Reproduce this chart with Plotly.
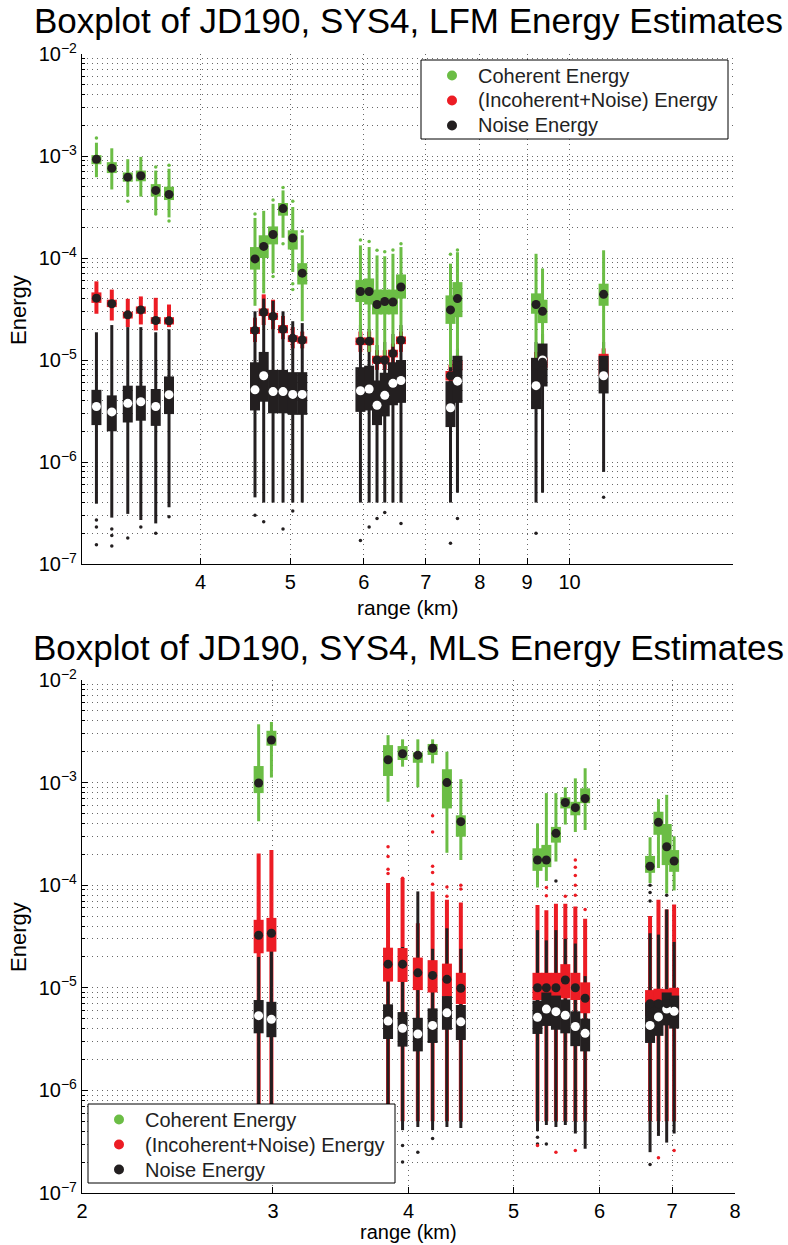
import plotly.graph_objects as go

# ---------------- LFM panel (top) ----------------
LFM_RANGE_KM = [3.09, 3.21, 3.34, 3.45, 3.58, 3.70,
                4.58, 4.68, 4.79, 4.91, 5.03, 5.15,
                5.95, 6.08, 6.20, 6.32, 6.45, 6.58,
                7.44, 7.57,
                9.20, 9.35,
                10.88]

LFM_COH_LO = [6.2e-4, 4.7e-4, 4.0e-4, 4.0e-4, 2.76e-4, 2.5e-4,
              3.4e-5, 4.5e-5, 7.1e-5, 1.58e-4, 7.3e-5, 2.4e-5,
              1.67e-5, 1.2e-5, 1.05e-5, 1.05e-5, 1.35e-5, 1.56e-5,
              8.5e-6, 1.05e-5, 1.0e-5, 1.0e-5, 1.0e-5]
LFM_COH_Q1 = [8.3e-4, 6.8e-4, 5.6e-4, 5.65e-4, 4.0e-4, 3.7e-4,
              7.7e-5, 1.0e-4, 1.36e-4, 2.6e-4, 1.21e-4, 5.5e-5,
              3.7e-5, 3.5e-5, 2.8e-5, 2.8e-5, 2.8e-5, 4.0e-5,
              2.26e-5, 2.63e-5, 2.84e-5, 2.3e-5, 3.4e-5]
LFM_COH_MED = [9.3e-4, 7.6e-4, 6.2e-4, 6.4e-4, 4.6e-4, 4.2e-4,
               9.8e-5, 1.3e-4, 1.7e-4, 3.05e-4, 1.57e-4, 7.1e-5,
               4.7e-5, 4.7e-5, 3.5e-5, 3.75e-5, 3.7e-5, 5.2e-5,
               3.1e-5, 4.0e-5, 3.5e-5, 3.0e-5, 4.4e-5]
LFM_COH_Q3 = [1.02e-3, 8.7e-4, 6.9e-4, 7.2e-4, 5.3e-4, 5.0e-4,
              1.28e-4, 1.67e-4, 2.04e-4, 3.46e-4, 1.87e-4, 8.9e-5,
              6.1e-5, 6.3e-5, 4.9e-5, 4.9e-5, 4.9e-5, 6.9e-5,
              4.3e-5, 5.8e-5, 4.5e-5, 3.9e-5, 5.6e-5]
LFM_COH_HI = [1.35e-3, 1.19e-3, 9.3e-4, 9.8e-4, 7.2e-4, 7.5e-4,
              2.47e-4, 2.9e-4, 3.4e-4, 4.6e-4, 3.16e-4, 1.67e-4,
              1.33e-4, 1.28e-4, 1.06e-4, 1.04e-4, 1.1e-4, 1.28e-4,
              8.8e-5, 1.14e-4, 1.1e-4, 7.9e-5, 1.19e-4]
LFM_COH_OUT = [(0, 1.5e-3), (2, 3.6e-4), (4, 7.8e-4), (4, 2.7e-4), (5, 8.1e-4),
               (5, 2.3e-4), (6, 2.7e-4), (8, 3.7e-4), (8, 6.6e-5), (9, 4.9e-4),
               (9, 1.38e-4), (10, 3.6e-4), (10, 5.6e-5), (10, 4.9e-5), (11, 1.83e-4),
               (12, 1.5e-4), (13, 1.45e-4), (14, 1.19e-4), (15, 1.15e-4), (16, 1.2e-4),
               (17, 1.38e-4), (18, 1.09e-4), (19, 1.2e-4)]

LFM_INC_LO = [2.84e-5, 2.44e-5, 2.1e-5, 2.23e-5, 1.95e-5, 2.1e-5,
              1.5e-5, 2.2e-5, 2.0e-5, 1.6e-5, 1.3e-5, 1.3e-5,
              1.2e-5, 1.2e-5, 8.0e-6, 8.0e-6, 9.0e-6, 1.2e-5,
              5.5e-6, 7.0e-6, 6.5e-6, 7.0e-6, 5.5e-6]
LFM_INC_Q1 = [3.63e-5, 3.3e-5, 2.55e-5, 2.84e-5, 2.26e-5, 2.23e-5,
              1.8e-5, 2.7e-5, 2.47e-5, 1.83e-5, 1.5e-5, 1.45e-5,
              1.4e-5, 1.4e-5, 9.2e-6, 9.2e-6, 1.06e-5, 1.43e-5,
              6.3e-6, 7.9e-6, 7.9e-6, 8.4e-6, 7.0e-6]
LFM_INC_MED = [4.04e-5, 3.56e-5, 2.77e-5, 3.1e-5, 2.44e-5, 2.42e-5,
               1.95e-5, 2.94e-5, 2.68e-5, 2.0e-5, 1.63e-5, 1.57e-5,
               1.53e-5, 1.53e-5, 1.0e-5, 1.0e-5, 1.16e-5, 1.56e-5,
               7.0e-6, 8.8e-6, 9.0e-6, 9.5e-6, 9.0e-6]
LFM_INC_Q3 = [4.6e-5, 3.9e-5, 2.97e-5, 3.35e-5, 2.63e-5, 2.63e-5,
              2.1e-5, 3.2e-5, 2.9e-5, 2.2e-5, 1.75e-5, 1.7e-5,
              1.66e-5, 1.66e-5, 1.1e-5, 1.1e-5, 1.26e-5, 1.7e-5,
              7.8e-6, 9.8e-6, 1.02e-5, 1.06e-5, 1.15e-5]
LFM_INC_HI = [5.9e-5, 4.9e-5, 3.98e-5, 4.2e-5, 4.07e-5, 3.5e-5,
              2.6e-5, 4.4e-5, 3.9e-5, 2.7e-5, 2.1e-5, 1.9e-5,
              1.9e-5, 1.9e-5, 1.25e-5, 1.25e-5, 1.45e-5, 1.9e-5,
              9.0e-6, 1.1e-5, 1.2e-5, 1.2e-5, 1.3e-5]
LFM_INC_OUT = []

LFM_NOI_LO = [3.9e-7, 2.85e-7, 3.1e-7, 2.7e-7, 2.5e-7, 3.6e-7,
              4.5e-7, 4.0e-7, 4.0e-7, 4.0e-7, 4.0e-7, 4.0e-7,
              4.0e-7, 4.0e-7, 4.0e-7, 4.0e-7, 4.0e-7, 4.0e-7,
              4.0e-7, 5.0e-7, 4.0e-7, 5.0e-7, 8.0e-7]
LFM_NOI_Q1 = [2.3e-6, 2.0e-6, 2.44e-6, 2.54e-6, 2.26e-6, 2.95e-6,
              3.2e-6, 3.9e-6, 3.0e-6, 3.0e-6, 2.9e-6, 2.9e-6,
              3.1e-6, 3.2e-6, 2.3e-6, 2.8e-6, 3.6e-6, 3.8e-6,
              2.2e-6, 3.8e-6, 3.3e-6, 5.5e-6, 4.7e-6]
LFM_NOI_MED = [3.5e-6, 3.1e-6, 3.76e-6, 3.9e-6, 3.5e-6, 4.57e-6,
               5.1e-6, 7.0e-6, 4.9e-6, 4.9e-6, 4.6e-6, 4.6e-6,
               5.0e-6, 5.2e-6, 3.6e-6, 4.5e-6, 5.9e-6, 6.3e-6,
               3.4e-6, 6.2e-6, 5.6e-6, 1.0e-5, 7.0e-6]
LFM_NOI_Q3 = [5.1e-6, 4.5e-6, 5.6e-6, 5.6e-6, 5.2e-6, 6.9e-6,
              9.5e-6, 1.2e-5, 8.0e-6, 8.0e-6, 7.6e-6, 7.6e-6,
              8.5e-6, 8.8e-6, 6.3e-6, 7.5e-6, 9.5e-6, 1.0e-5,
              6.2e-6, 1.1e-5, 1.05e-5, 1.45e-5, 1.1e-5]
LFM_NOI_HI = [1.87e-5, 2.2e-5, 2.1e-5, 2.1e-5, 1.87e-5, 2.0e-5,
              3.0e-5, 4.0e-5, 3.8e-5, 3.0e-5, 2.4e-5, 2.3e-5,
              2.2e-5, 2.0e-5, 1.4e-5, 1.5e-5, 1.8e-5, 2.2e-5,
              1.0e-5, 1.3e-5, 1.5e-5, 1.8e-5, 1.5e-5]
LFM_NOI_OUT = [(0, 2.7e-7), (0, 2.3e-7), (0, 1.54e-7), (1, 2.2e-7), (1, 1.9e-7),
               (1, 1.5e-7), (2, 1.8e-7), (3, 2.3e-7), (4, 2.0e-7), (5, 2.9e-7),
               (6, 3.0e-7), (7, 2.6e-7), (9, 2.2e-7), (10, 3.3e-7), (12, 1.7e-7),
               (13, 2.3e-7), (14, 2.8e-7), (15, 3.2e-7), (17, 2.5e-7), (18, 1.6e-7),
               (19, 2.8e-7), (20, 2.0e-7), (22, 4.5e-7)]

# ---------------- MLS panel (bottom) ----------------
MLS_RANGE_KM = [2.91, 2.99,
                3.83, 3.95, 4.08, 4.21, 4.34, 4.47,
                5.26, 5.36, 5.47, 5.58, 5.70, 5.82,
                6.68, 6.80, 6.92, 7.03]

MLS_COH_LO = [4.2e-4, 1.12e-3, 6.5e-4, 1.43e-3, 9.0e-4, 1.54e-3, 2.07e-4, 1.76e-4,
              9.5e-5, 1.1e-4, 1.7e-4, 3.9e-4, 3.3e-4, 3.45e-4,
              1.05e-4, 1.47e-4, 8.3e-5, 8.9e-5]
MLS_COH_Q1 = [7.9e-4, 2.29e-3, 1.16e-3, 1.66e-3, 1.56e-3, 1.86e-3, 5.6e-4, 2.97e-4,
              1.38e-4, 1.5e-4, 2.6e-4, 5.6e-4, 4.8e-4, 6.3e-4,
              1.32e-4, 3.1e-4, 1.57e-4, 1.35e-4]
MLS_COH_MED = [9.9e-4, 2.6e-3, 1.67e-3, 1.91e-3, 1.85e-3, 2.16e-3, 1.0e-3, 4.16e-4,
               1.76e-4, 1.76e-4, 3.2e-4, 6.4e-4, 5.7e-4, 7.0e-4,
               1.53e-4, 4.1e-4, 2.37e-4, 1.72e-4]
MLS_COH_Q3 = [1.45e-3, 3.2e-3, 2.32e-3, 2.27e-3, 1.97e-3, 2.38e-3, 1.35e-3, 4.8e-4,
              2.29e-4, 2.47e-4, 3.7e-4, 7.2e-4, 6.5e-4, 8.8e-4,
              1.93e-4, 5.2e-4, 3.95e-4, 2.2e-4]
MLS_COH_HI = [3.7e-3, 3.9e-3, 2.9e-3, 2.64e-3, 2.64e-3, 2.64e-3, 2.0e-3, 1.08e-3,
              4.0e-4, 7.9e-4, 7.9e-4, 9.0e-4, 1.1e-3, 1.38e-3,
              2.93e-4, 6.9e-4, 7.6e-4, 3.0e-4]
MLS_COH_OUT = []

MLS_INC_LO = [5.0e-7, 5.0e-7, 5.0e-7, 5.0e-7, 5.0e-7, 5.0e-7, 5.0e-7, 5.0e-7,
              5.0e-7, 5.0e-7, 5.0e-7, 5.0e-7, 5.0e-7, 5.0e-7,
              5.0e-7, 5.0e-7, 5.0e-7, 5.0e-7]
MLS_INC_Q1 = [2.17e-5, 2.25e-5, 1.15e-5, 1.14e-5, 9.5e-6, 9.0e-6, 8.2e-6, 6.95e-6,
              7.6e-6, 7.6e-6, 7.5e-6, 7.9e-6, 7.6e-6, 5.65e-6,
              5.3e-6, 5.3e-6, 5.3e-6, 5.5e-6]
MLS_INC_MED = [3.25e-5, 3.4e-5, 1.7e-5, 1.7e-5, 1.4e-5, 1.32e-5, 1.21e-5, 9.9e-6,
               1.0e-5, 1.0e-5, 1.0e-5, 1.19e-5, 1.0e-5, 7.9e-6,
               7.0e-6, 7.0e-6, 7.0e-6, 7.5e-6]
MLS_INC_Q3 = [4.6e-5, 4.8e-5, 2.46e-5, 2.44e-5, 1.97e-5, 1.86e-5, 1.72e-5, 1.4e-5,
              1.4e-5, 1.4e-5, 1.4e-5, 1.7e-5, 1.4e-5, 1.13e-5,
              9.5e-6, 9.8e-6, 9.7e-6, 1.0e-5]
MLS_INC_HI = [2.04e-4, 2.2e-4, 1.05e-4, 1.17e-4, 4.25e-5, 8.7e-5, 7.2e-5, 6.8e-5,
              6.4e-5, 5.7e-5, 6.6e-5, 6.6e-5, 6.2e-5, 4.7e-5,
              5.0e-5, 7.2e-5, 5.8e-5, 6.5e-5]
MLS_INC_OUT = [(2, 2.37e-4), (2, 1.9e-4), (2, 1.43e-4), (2, 1.3e-4), (3, 1.17e-4),
               (5, 4.75e-4), (5, 3.3e-4), (5, 1.53e-4), (5, 1.33e-4), (5, 1.02e-4),
               (6, 9.6e-5), (6, 7.8e-5), (7, 1.0e-4), (7, 9.2e-5), (9, 9.5e-5),
               (9, 7.9e-5), (11, 7.8e-5), (12, 1.76e-4), (12, 1.5e-4), (12, 1.24e-4),
               (12, 1.0e-4), (12, 8.0e-5), (13, 5.8e-5), (8, 2.9e-7), (10, 2.5e-7),
               (12, 2.6e-7), (15, 2.2e-7), (17, 2.6e-7)]

MLS_NOI_LO = [5.0e-7, 5.0e-7, 3.3e-7, 4.1e-7, 4.4e-7, 4.1e-7, 4.4e-7, 4.3e-7,
              4.0e-7, 4.6e-7, 4.4e-7, 4.6e-7, 3.8e-7, 2.7e-7,
              2.5e-7, 3.6e-7, 3.1e-7, 3.8e-7]
MLS_NOI_Q1 = [3.6e-6, 3.3e-6, 3.17e-6, 2.67e-6, 2.4e-6, 2.9e-6, 3.9e-6, 3.1e-6,
              3.55e-6, 4.25e-6, 3.9e-6, 3.6e-6, 2.7e-6, 2.4e-6,
              2.9e-6, 3.4e-6, 4.3e-6, 4.0e-6]
MLS_NOI_MED = [5.35e-6, 4.93e-6, 4.74e-6, 4.03e-6, 3.55e-6, 4.3e-6, 5.7e-6, 4.66e-6,
               5.15e-6, 6.2e-6, 5.85e-6, 5.4e-6, 4.2e-6, 3.6e-6,
               4.3e-6, 5.2e-6, 6.2e-6, 5.9e-6]
MLS_NOI_Q3 = [7.6e-6, 7.3e-6, 6.9e-6, 5.8e-6, 5.1e-6, 6.3e-6, 8.3e-6, 6.8e-6,
              7.5e-6, 9.0e-6, 8.4e-6, 7.7e-6, 5.9e-6, 5.0e-6,
              7.2e-6, 7.5e-6, 9.0e-6, 8.4e-6]
MLS_NOI_HI = [2.0e-5, 2.5e-5, 2.0e-5, 2.5e-5, 8.7e-5, 2.4e-5, 3.8e-5, 2.4e-5,
              3.65e-5, 2.9e-5, 3.65e-5, 3.0e-5, 2.7e-5, 1.3e-5,
              3.4e-5, 3.3e-5, 5.8e-5, 2.8e-5]
MLS_NOI_OUT = [(2, 2.5e-7), (2, 2.0e-7), (3, 2.9e-7), (3, 2.0e-7), (4, 2.5e-7),
               (5, 3.4e-7), (8, 3.5e-7), (8, 3.0e-7), (9, 3.0e-7), (14, 1.9e-7),
               (10, 1.1e-4), (14, 1.0e-4), (14, 8.5e-5), (14, 7.0e-5), (16, 8.0e-5)]

DECADES = [1e-7, 1e-6, 1e-5, 1e-4, 1e-3, 1e-2]
DECADE_LABELS = ["10<sup>−7</sup>", "10<sup>−6</sup>", "10<sup>−5</sup>",
                 "10<sup>−4</sup>", "10<sup>−3</sup>", "10<sup>−2</sup>"]
LFM_XTICKS = [4, 5, 6, 7, 8, 9, 10]
MLS_XTICKS = [2, 3, 4, 5, 6, 7, 8]
LEGEND_NAMES = ["Coherent Energy", "(Incoherent+Noise) Energy", "Noise Energy"]

W, H = 788, 1245
GREEN = "#6bbd45"
RED = "#ec1c24"
BLACK = "#231f20"
LEGEND_COLORS = [GREEN, RED, BLACK]
FONT = "Liberation Sans, Arial, Helvetica, sans-serif"
GRID = "rgba(40,40,40,0.7)"

fig = go.Figure()


def segments(xs, lo, hi):
    px, py = [], []
    for x, a, b in zip(xs, lo, hi):
        px += [x, x, None]
        py += [a, b, None]
    return px, py


def add_lines(xs, lo, hi, color, width, xa, ya):
    px, py = segments(xs, lo, hi)
    fig.add_trace(go.Scatter(x=px, y=py, mode="lines", xaxis=xa, yaxis=ya,
                             line=dict(color=color, width=width),
                             showlegend=False, hoverinfo="skip"))


def add_points(xs, ys, color, size, xa, ya):
    fig.add_trace(go.Scatter(x=xs, y=ys, mode="markers", xaxis=xa, yaxis=ya,
                             marker=dict(color=color, size=size, line=dict(width=0)),
                             showlegend=False, hoverinfo="skip"))


def draw_panel(pos, coh, inc, noi, xa, ya):
    series = {"coh": (coh, GREEN, BLACK, 3), "inc": (inc, RED, BLACK, 4),
              "noi": (noi, BLACK, "white", 3)}
    # whiskers: red underneath, then noise, then coherent on top
    for key in ("inc", "noi", "coh"):
        s, col, _, w = series[key]
        add_lines(pos, s[0], s[4], col, w, xa, ya)
    # boxes
    for key in ("inc", "noi", "coh"):
        s, col, _, _ = series[key]
        add_lines(pos, s[1], s[3], col, 10, xa, ya)
    # outliers
    for key in ("noi", "inc", "coh"):
        s, col, _, _ = series[key]
        if s[5]:
            add_points([pos[i] for i, _ in s[5]], [v for _, v in s[5]], col, 3.5, xa, ya)
    # medians
    for key in ("noi", "inc", "coh"):
        s, _, mcol, _ = series[key]
        add_points(pos, s[2], mcol, 9, xa, ya)


draw_panel(LFM_RANGE_KM,
           (LFM_COH_LO, LFM_COH_Q1, LFM_COH_MED, LFM_COH_Q3, LFM_COH_HI, LFM_COH_OUT),
           (LFM_INC_LO, LFM_INC_Q1, LFM_INC_MED, LFM_INC_Q3, LFM_INC_HI, LFM_INC_OUT),
           (LFM_NOI_LO, LFM_NOI_Q1, LFM_NOI_MED, LFM_NOI_Q3, LFM_NOI_HI, LFM_NOI_OUT),
           "x", "y")
draw_panel(MLS_RANGE_KM,
           (MLS_COH_LO, MLS_COH_Q1, MLS_COH_MED, MLS_COH_Q3, MLS_COH_HI, MLS_COH_OUT),
           (MLS_INC_LO, MLS_INC_Q1, MLS_INC_MED, MLS_INC_Q3, MLS_INC_HI, MLS_INC_OUT),
           (MLS_NOI_LO, MLS_NOI_Q1, MLS_NOI_MED, MLS_NOI_Q3, MLS_NOI_HI, MLS_NOI_OUT),
           "x2", "y2")

minor_vals = [m * d for d in DECADES[:-1] for m in range(2, 10)]

yax = dict(type="log", range=[-7, -2], tickvals=DECADES, ticktext=DECADE_LABELS,
           ticks="inside", ticklen=6, tickcolor="black", showline=True, linecolor="black",
           linewidth=1.3, mirror=False, zeroline=False, showgrid=True, gridcolor=GRID,
           gridwidth=1, griddash="1px,4px", automargin=False,
           minor=dict(tickvals=minor_vals, ticks="inside", ticklen=3, tickcolor="black",
                      showgrid=True, gridcolor=GRID, gridwidth=1, griddash="1px,4px"),
           tickfont=dict(family=FONT, size=20, color="black"))

xbase = dict(type="log", ticks="inside", ticklen=6, tickcolor="black", showline=True,
             linecolor="black", linewidth=1.3, mirror=False, zeroline=False,
             showgrid=True, gridcolor=GRID, gridwidth=1, griddash="1px,4px",
             automargin=False, tickfont=dict(family=FONT, size=20, color="black"))


def px_x(x):
    return x / W


def px_y(y):
    return 1 - y / H


def label(text, x, y, size, angle=0, xanchor="center"):
    return dict(text=text, x=px_x(x), y=px_y(y), xref="paper", yref="paper",
                xanchor=xanchor, yanchor="middle", showarrow=False, textangle=angle,
                font=dict(family=FONT, size=size, color="black"))


annotations = [
    label("Boxplot of JD190, SYS4, LFM Energy Estimates", 408, 21, 35),
    label("Boxplot of JD190, SYS4, MLS Energy Estimates", 408, 647, 35),
    label("Energy", 18, 310, 22, -90),
    label("Energy", 18, 937, 22, -90),
    label("range (km)", 408, 607, 21),
    label("range (km)", 408, 1232, 20),
]
shapes = []

# key boxes: frame, coloured dot and name for each series
for left, top in ((421, 60), (88, 1104)):
    shapes.append(dict(type="rect", xref="paper", yref="paper",
                       x0=px_x(left), x1=px_x(left + 307), y0=px_y(top), y1=px_y(top + 79),
                       line=dict(color="black", width=1), fillcolor="white", layer="above"))
    for row, (name, col) in enumerate(zip(LEGEND_NAMES, LEGEND_COLORS)):
        cy = top + 15.5 + 25 * row
        shapes.append(dict(type="circle", xref="paper", yref="paper",
                           xsizemode="pixel", ysizemode="pixel",
                           xanchor=px_x(left + 31), yanchor=px_y(cy),
                           x0=-5, x1=5, y0=-5, y1=5,
                           fillcolor=col, line=dict(width=0), layer="above"))
        annotations.append(dict(text=name, x=px_x(left + 55), y=px_y(cy), xref="paper",
                                yref="paper", xanchor="left", yanchor="middle",
                                showarrow=False,
                                font=dict(family=FONT, size=20, color="#222")))

fig.update_layout(
    width=W, height=H, margin=dict(l=0, r=0, t=0, b=0, autoexpand=False),
    paper_bgcolor="white", plot_bgcolor="white", showlegend=False,
    font=dict(family=FONT, color="black"),
    xaxis=dict(xbase, domain=[82 / W, 733 / W], anchor="y",
               range=[0.4744, 1.1761], tickvals=LFM_XTICKS,
               ticktext=[str(v) for v in LFM_XTICKS]),
    yaxis=dict(yax, domain=[1 - 564 / H, 1 - 54 / H], anchor="x"),
    xaxis2=dict(xbase, domain=[82 / W, 735 / W], anchor="y2",
                range=[0.30103, 0.90309], tickvals=MLS_XTICKS,
                ticktext=[str(v) for v in MLS_XTICKS]),
    yaxis2=dict(yax, domain=[1 - 1193 / H, 1 - 680 / H], anchor="x2"),
    annotations=annotations,
    shapes=shapes,
)

fig.write_html("out.html")
